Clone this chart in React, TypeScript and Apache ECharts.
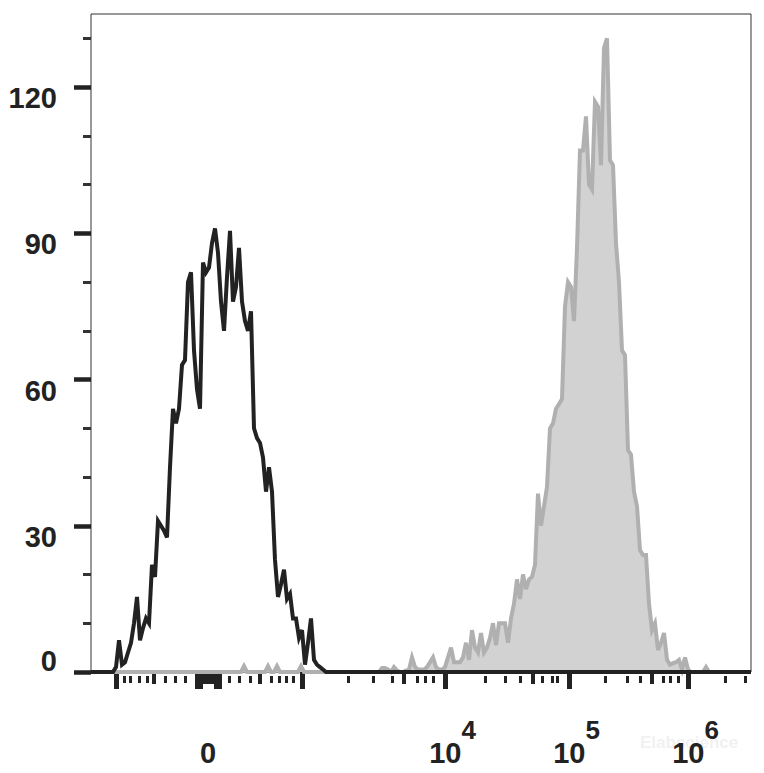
import React, { useEffect, useRef } from "react";
import * as echarts from "echarts";

// Display channels (transformed biexponential scale), 0..660
const X_MAX = 660;
const Y_MAX = 135;

// Unstained / isotype histogram (black outline)
const BLACK_START = 19;
const BLACK_STEP = 3;
const BLACK_COUNTS = [
  0, 0, 1, 6.5, 1.5, 2, 4, 6, 10, 15.4,
  6.5, 9, 11, 10, 22, 19.5, 31, 30, 29, 27.6,
  42, 54, 51, 54, 63, 64, 80, 82, 66, 58,
  54, 84, 82, 83, 88, 91, 86, 76, 70, 81,
  90.5, 76, 79, 87, 76, 72, 70, 74, 50, 48,
  47, 44, 37, 42, 37, 23, 15.4, 18, 21, 15,
  16, 11, 11, 7, 8.6, 1.5, 6, 11, 2.5, 1.5,
  1, 0.5, 0,
];

// Stained histogram (grey filled)
const GRAY_START = 144;
const GRAY_STEP = 3;
const GRAY_COUNTS = [
  0, 0, 0, 1.2, 0, 0, 0, 0, 0, 0,
  0, 1.2, 0, 0, 1.2, 0, 0, 0, 0, 0,
  0, 0, 1.2, 0, 0, 0, 0, 0, 0, 0,
  0, 0, 0, 0, 0, 0, 0, 0, 0, 0,
  0, 0, 0, 0, 0, 0, 0, 0,
  0, 0.8, 0.8, 0.5, 0, 1, 0.3, 0, 0, 0.3,
  0.5, 3, 1, 0.5, 0.5, 0.5, 1, 2, 3, 1,
  0.5, 0.5, 1, 3, 5, 2, 2, 2, 3, 6,
  2.5, 8.6, 5, 4, 8, 4, 5, 7, 10, 5.5,
  10, 10, 10, 6, 11, 14, 19, 15, 20, 17,
  19, 19.5, 22, 36.6, 30, 34, 38, 50, 51, 54,
  55, 56, 75, 80, 79, 72, 87, 107, 107, 114,
  100, 99, 117, 116, 104, 128, 130, 105, 104, 88,
  80, 66, 65, 45.5, 44.6, 37, 34, 25, 24, 24,
  14, 8.6, 10, 4.5, 6, 8, 2.5, 1.5, 1.8, 2,
  2.5, 0.5, 3, 0.5, 0, 0, 0, 0, 0, 1,
  0, 0, 0,
];

const Y_MAJOR = [0, 30, 60, 90, 120];
const Y_MINOR = [10, 20, 40, 50, 70, 80, 100, 110, 130];

const X_LABEL_CH = [117, 354, 478, 597];
const X_LABELS = ["0", "10^4", "10^5", "10^6"];
const X_TICK_LONG = [25, 106, 109, 125, 128, 211, 354, 478, 597];
const X_TICK_MED = [63, 113, 117, 121, 169, 313, 442, 561];
const X_TICK_SMALL = [
  33, 39, 48, 56, 74, 84, 94, 138, 148, 159, 180, 188, 195, 202,
  257, 282, 301, 326, 334, 342, 394, 414, 429, 451, 461, 466,
  514, 536, 549, 572, 579, 587, 634, 654,
];

const FONT = "'Liberation Sans', Arial, Helvetica, sans-serif";
const INK = "#222222";

export default function App() {
  const ref = useRef<HTMLDivElement>(null);

  useEffect(() => {
    if (!ref.current) return;
    const chart = echarts.init(ref.current, undefined, { renderer: "svg" });

    const blackData = [
      [0, 0],
      ...BLACK_COUNTS.map((c, i) => [BLACK_START + i * BLACK_STEP, c]),
      [X_MAX, 0],
    ];
    const grayData = [
      [0, 0],
      ...GRAY_COUNTS.map((c, i) => [GRAY_START + i * GRAY_STEP, c]),
      [X_MAX, 0],
    ];

    const baseX = {
      type: "value" as const,
      min: 0,
      max: X_MAX,
      gridIndex: 0,
      position: "bottom" as const,
      offset: 4,
      axisLine: { show: false },
      splitLine: { show: false },
    };
    const baseY = {
      type: "value" as const,
      min: 0,
      max: Y_MAX,
      gridIndex: 0,
      position: "left" as const,
      offset: 2,
      axisLine: { show: false },
      splitLine: { show: false },
    };

    const txt = {
      fontFamily: FONT,
      fontWeight: "bold" as const,
      color: INK,
    };

    const option: any = {
      animation: false,
      backgroundColor: "#ffffff",
      grid: {
        left: 91,
        right: 13,
        top: 14,
        bottom: 101,
        show: true,
        borderColor: "#333333",
        borderWidth: 1,
        backgroundColor: "transparent",
      },
      xAxis: [
        {
          ...baseX,
          axisTick: {
            show: true,
            customValues: X_TICK_LONG,
            length: 17,
            lineStyle: { color: INK, width: 5 },
          },
          axisLabel: {
            show: true,
            customValues: X_LABEL_CH,
            margin: 91,
            verticalAlign: "bottom",
            formatter: (v: number) => {
              const i = X_LABEL_CH.indexOf(v);
              const s = i >= 0 ? X_LABELS[i] : "";
              if (s.includes("^")) {
                const [b, e] = s.split("^");
                return `{b|${b}}{s|${e}}`;
              }
              return `{z|${s}}`;
            },
            rich: {
              b: {
                ...txt,
                fontSize: 29,
                lineHeight: 29,
                verticalAlign: "bottom",
                padding: [0, 0, 0, 15],
              },
              s: {
                ...txt,
                fontSize: 26,
                lineHeight: 26,
                verticalAlign: "bottom",
                padding: [0, 0, 24, 0],
              },
              z: {
                ...txt,
                fontSize: 29,
                lineHeight: 29,
                verticalAlign: "bottom",
              },
            },
          },
        },
        {
          ...baseX,
          axisTick: {
            show: true,
            customValues: X_TICK_MED,
            length: 12,
            lineStyle: { color: INK, width: 4 },
          },
          axisLabel: { show: false },
        },
        {
          ...baseX,
          axisTick: {
            show: true,
            customValues: X_TICK_SMALL,
            length: 7,
            lineStyle: { color: INK, width: 3 },
          },
          axisLabel: { show: false },
        },
      ],
      yAxis: [
        {
          ...baseY,
          axisTick: {
            show: true,
            customValues: Y_MAJOR,
            length: 17,
            lineStyle: { color: INK, width: 4.5 },
          },
          axisLabel: {
            show: true,
            customValues: Y_MAJOR,
            margin: 32,
            formatter: (v: number) => (v === 0 ? `{lo|${v}}` : `{hi|${v}}`),
            rich: {
              hi: {
                ...txt,
                fontSize: 29,
                lineHeight: 29,
                padding: [22, 0, 0, 0],
              },
              lo: {
                ...txt,
                fontSize: 29,
                lineHeight: 29,
                padding: [0, 0, 22, 0],
              },
            },
          },
        },
        {
          ...baseY,
          axisTick: {
            show: true,
            customValues: Y_MINOR,
            length: 8,
            lineStyle: { color: "#333333", width: 3 },
          },
          axisLabel: { show: false },
        },
      ],
      graphic: [
        {
          type: "text",
          left: 640,
          top: 734,
          z: -10,
          style: {
            text: "Elabscience",
            fill: "#f1f1f1",
            font: `bold 17px ${FONT}`,
          },
        },
      ],
      series: [
        {
          type: "line",
          name: "stained",
          xAxisIndex: 0,
          yAxisIndex: 0,
          data: grayData,
          showSymbol: false,
          clip: false,
          z: 2,
          lineStyle: { color: "#b0b0b0", width: 4, join: "miter" },
          areaStyle: { color: "#d2d2d2", opacity: 1 },
        },
        {
          type: "line",
          name: "control",
          xAxisIndex: 0,
          yAxisIndex: 0,
          data: blackData,
          showSymbol: false,
          clip: false,
          z: 3,
          lineStyle: { color: INK, width: 4, join: "miter" },
        },
      ],
    };

    chart.setOption(option);
    return () => chart.dispose();
  }, []);

  return (
    <div
      ref={ref}
      style={{ position: "fixed", left: 0, top: 0, width: 764, height: 773 }}
    />
  );
}
